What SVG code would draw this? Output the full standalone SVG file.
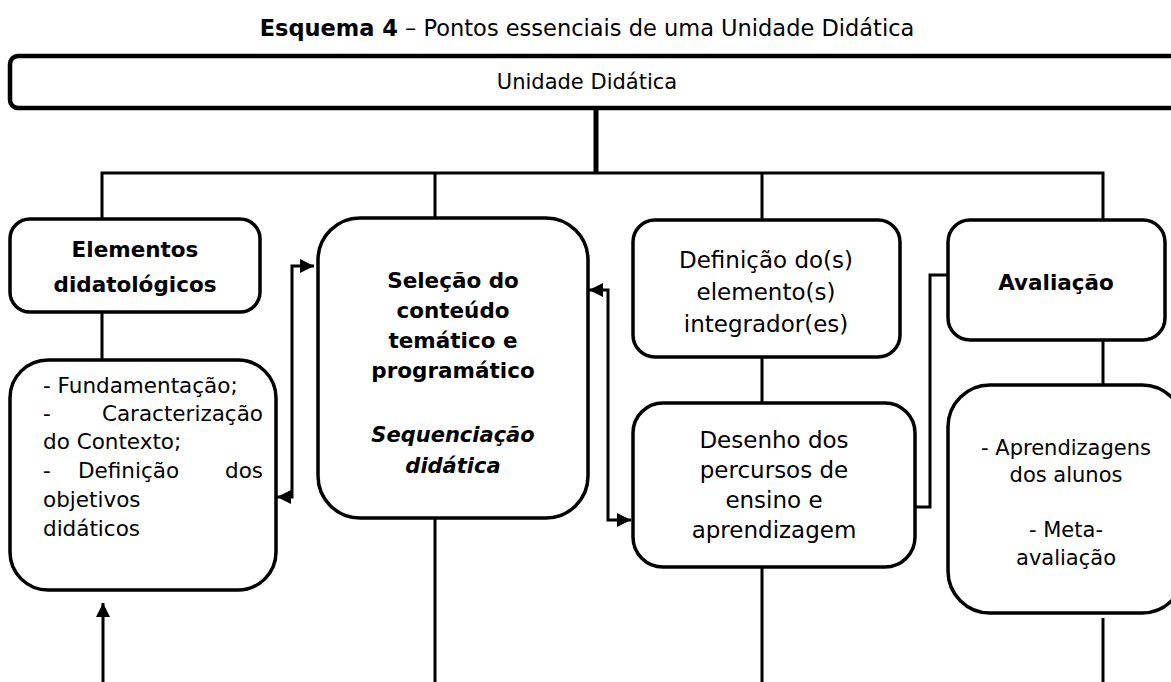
<svg xmlns="http://www.w3.org/2000/svg" width="1171" height="682" viewBox="0 0 1171 682">
<style>
  .box{fill:#fff;stroke:#000;stroke-width:3.5}
  .ln{fill:none;stroke:#000;stroke-width:3}
  text{font-family:"DejaVu Sans","Liberation Sans",sans-serif;fill:#000}
  .r{font-size:23px}
  .b{font-size:21.5px;font-weight:bold}
  .bi{font-size:21px;font-weight:bold;font-style:italic}
  .s{font-size:21px}
  .f{font-size:21.5px}
  .m{text-anchor:middle}
  .e{text-anchor:end}
</style>
<defs>
  <marker id="ah" viewBox="0 0 10 10" refX="10" refY="5" markerWidth="15" markerHeight="14" markerUnits="userSpaceOnUse" orient="auto-start-reverse">
    <path d="M0,0 L10,5 L0,10 z" fill="#000"/>
  </marker>
</defs>
<rect width="1171" height="682" fill="#fff"/>
<text x="587" y="36" class="m" style="font-size:22.5px"><tspan font-weight="bold">Esquema 4</tspan> – Pontos essenciais de uma Unidade Didática</text>

<g id="connectors">
  <line x1="596" y1="108" x2="596" y2="173" stroke="#000" stroke-width="5"/>
  <polyline class="ln" points="102,219 102,173 1103,173 1103,220"/>
  <line class="ln" x1="435" y1="173" x2="435" y2="218"/>
  <line class="ln" x1="762" y1="173" x2="762" y2="220"/>
  <line class="ln" x1="102" y1="312" x2="102" y2="360"/>
  <line class="ln" x1="762" y1="357" x2="762" y2="403"/>
  <line class="ln" x1="1103" y1="340" x2="1103" y2="385"/>
  <polyline class="ln" points="314,266 292,266 292,497 277,497" marker-start="url(#ah)" marker-end="url(#ah)"/>
  <polyline class="ln" points="589,290 608,290 608,520 631,520" marker-start="url(#ah)" marker-end="url(#ah)"/>
  <polyline class="ln" points="915,507 930,507 930,275 948,275"/>
  <line class="ln" x1="103" y1="682" x2="103" y2="603" marker-end="url(#ah)"/>
  <line class="ln" x1="435" y1="518" x2="435" y2="682"/>
  <line class="ln" x1="762" y1="567" x2="762" y2="682"/>
  <line class="ln" x1="1103" y1="618" x2="1103" y2="682"/>
</g>

<g id="unidade">
  <rect class="box" x="10" y="56" width="1190" height="52" rx="8" style="stroke-width:4.5"/>
  <text x="587" y="89" class="m s">Unidade Didática</text>
</g>

<g id="elementos">
  <rect class="box" x="10" y="219" width="250" height="93" rx="20"/>
  <text x="135" y="257" class="m b">Elementos</text>
  <text x="135" y="292" class="m b">didatológicos</text>
</g>

<g id="fundamentacao">
  <rect class="box" x="10" y="360" width="266" height="230" rx="38"/>
  <text x="43" y="393" class="f">- Fundamentação;</text>
  <text x="43" y="421" class="f">-</text>
  <text x="263" y="421" class="f e">Caracterização</text>
  <text x="43" y="449" class="f">do Contexto;</text>
  <text x="43" y="478" class="f">-</text>
  <text x="78" y="478" class="f">Definição</text>
  <text x="263" y="478" class="f e">dos</text>
  <text x="43" y="507" class="f">objetivos</text>
  <text x="43" y="536" class="f">didáticos</text>
</g>

<g id="selecao">
  <rect class="box" x="318" y="218" width="270" height="300" rx="42"/>
  <text x="453" y="288" class="m b">Seleção do</text>
  <text x="453" y="318" class="m b">conteúdo</text>
  <text x="453" y="348" class="m b">temático e</text>
  <text x="453" y="378" class="m b">programático</text>
  <text x="453" y="442" class="m bi">Sequenciação</text>
  <text x="453" y="473" class="m bi">didática</text>
</g>

<g id="definicao">
  <rect class="box" x="633" y="220" width="267" height="137" rx="22"/>
  <text x="766" y="268" class="m r">Definição do(s)</text>
  <text x="766" y="300" class="m r">elemento(s)</text>
  <text x="766" y="332" class="m r">integrador(es)</text>
</g>

<g id="desenho">
  <rect class="box" x="633" y="403" width="282" height="164" rx="30"/>
  <text x="774" y="448" class="m r">Desenho dos</text>
  <text x="774" y="478" class="m r">percursos de</text>
  <text x="774" y="508" class="m r">ensino e</text>
  <text x="774" y="538" class="m r">aprendizagem</text>
</g>

<g id="avaliacao">
  <rect class="box" x="948" y="220" width="217" height="120" rx="22"/>
  <text x="1056" y="290" class="m b">Avaliação</text>
</g>

<g id="aprendizagens">
  <rect class="box" x="948" y="385" width="236" height="228" rx="42"/>
  <text x="1066" y="455" class="m s">- Aprendizagens</text>
  <text x="1066" y="482" class="m s">dos alunos</text>
  <text x="1066" y="537" class="m s">- Meta-</text>
  <text x="1066" y="565" class="m s">avaliação</text>
</g>
</svg>
